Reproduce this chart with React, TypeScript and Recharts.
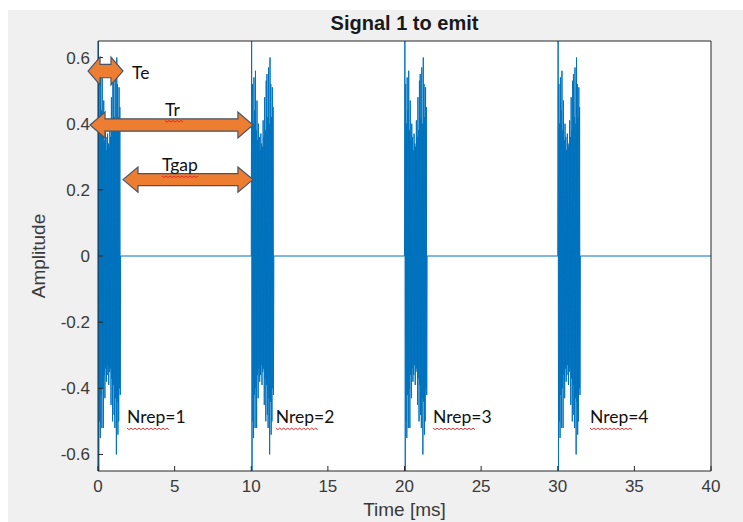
import React from 'react';
import { LineChart, Line, XAxis, YAxis, CartesianGrid, ReferenceArea, ReferenceDot } from 'recharts';

// ---- data ----
const burstStarts = [0, 10, 20, 30]; // ms
const sampleStep = 0.025; // ms between samples within a burst
const burstSamples = [
  0, 0.70, -0.70,
  0.52, -0.50, 0.40, -0.55, 0.54, -0.42, 0.44, -0.52, 0.56, -0.40,
  0.38, -0.52, 0.47, -0.36, 0.35, -0.43, 0.40, -0.34, 0.36, -0.38,
  0.32, -0.36, 0.37, -0.33, 0.34, -0.39, 0.33, -0.35, 0.41, -0.34,
  0.36, -0.45, 0.48, -0.37, 0.38, -0.50, 0.53, -0.39, 0.55, -0.48,
  0.42, -0.52, 0.57, -0.43, 0.40, -0.60, 0.60, -0.44, 0.52, -0.54,
  0.42, -0.50, 0.51, -0.40, 0.45, -0.42,
  0,
];
const timeEnd = 40;
const xTicks = [0, 5, 10, 15, 20, 25, 30, 35, 40];
const yTicks = [-0.6, -0.4, -0.2, 0, 0.2, 0.4, 0.6];

// annotation content (data coordinates)
const arrowNames = ['Te', 'Tr', 'Tgap'];
const arrowX1 = [-0.65, -0.52, 1.63];
const arrowX2 = [1.63, 10.11, 10.11];
const arrowYLow = [0.517, 0.357, 0.193];
const arrowYHigh = [0.601, 0.435, 0.269];

const noteTexts = ['Te', 'Tr', 'Tgap', 'Nrep=1', 'Nrep=2', 'Nrep=3', 'Nrep=4'];
const noteX = [2.22, 4.37, 4.18, 1.89, 11.6, 21.86, 32.1];
const noteY = [0.553, 0.443, 0.275, -0.487, -0.487, -0.487, -0.487];
const noteUnderlineWidth = [0, 19, 37, 42, 42, 42, 42];

const signal: { t: number; v: number }[] = [];
burstStarts.forEach((s) => {
  burstSamples.forEach((v, i) => signal.push({ t: s + i * sampleStep, v }));
});
signal.push({ t: timeEnd, v: 0 });

// ---- styles ----
const BLUE = '#0072BD';
const AXIS = '#262626';
const SANS = '"Liberation Sans", Arial, sans-serif';
const TICK_FONT = { fontSize: 17, fill: '#3a3a3a', fontFamily: SANS };
const NOTE_FONT = 'Lato, "Open Sans", sans-serif';

const makeArrow = (headLen: number) => (p: any) => {
  const { x, y, width, height } = p;
  const cy = y + height / 2;
  const sh = height * 0.24;
  const L = x;
  const R = x + width;
  const pts = [
    [L, cy], [L + headLen, y], [L + headLen, cy - sh], [R - headLen, cy - sh], [R - headLen, y], [R, cy],
    [R - headLen, y + height], [R - headLen, cy + sh], [L + headLen, cy + sh], [L + headLen, y + height],
  ];
  return (
    <polygon
      points={pts.map((q) => q.join(',')).join(' ')}
      fill="#ED7D31"
      stroke="#46566a"
      strokeWidth={1.2}
    />
  );
};

const makeNote = (text: string, ulw: number) => (p: any) => {
  const { cx, cy } = p;
  let d = '';
  if (ulw > 0) {
    const base = cy + 11;
    for (let k = 0; k <= ulw; k += 2) {
      d += `${k === 0 ? 'M' : 'L'}${cx + k},${base + ((k / 2) % 2 === 0 ? 0 : 1.6)} `;
    }
  }
  return (
    <g>
      <text x={cx} y={cy} dy="0.36em" fontSize={17.5} fontFamily={NOTE_FONT} fill="#111">
        {text}
      </text>
      {ulw > 0 && <path d={d} stroke="#e02020" strokeWidth={0.9} fill="none" />}
    </g>
  );
};

export default function App() {
  return (
    <div style={{ position: 'absolute', left: 0, top: 0, width: 743, height: 522, background: '#ffffff', overflow: 'hidden' }}>
      <div style={{ position: 'absolute', left: 8, top: 10, right: 0, bottom: 0, background: '#f0f0f0' }} />
      <div style={{ position: 'absolute', left: 0, top: 0 }}>
        <LineChart width={743} height={522} data={signal} margin={{ top: 0, right: 0, bottom: 0, left: 0 }}>
          <CartesianGrid fill="#ffffff" horizontal={false} vertical={false} />
          <XAxis
            dataKey="t"
            type="number"
            domain={[0, 40]}
            ticks={xTicks}
            interval={0}
            allowDataOverflow
            height={51}
            tickSize={-5}
            tickMargin={14}
            stroke={AXIS}
            tick={TICK_FONT}
            label={{
              value: 'Time [ms]',
              position: 'insideTop',
              offset: 32,
              style: { fontSize: 19, fill: '#3a3a3a', fontFamily: SANS },
            }}
          />
          <XAxis
            xAxisId="top"
            orientation="top"
            type="number"
            domain={[0, 40]}
            ticks={xTicks}
            interval={0}
            allowDataOverflow
            height={41}
            tickSize={-5}
            tick={false}
            stroke={AXIS}
            label={{
              value: 'Signal 1 to emit',
              position: 'insideTop',
              offset: 16,
              style: { fontSize: 20, fontWeight: 'bold', fill: '#1a1a1a', fontFamily: SANS },
            }}
          />
          <YAxis
            type="number"
            domain={[-0.65, 0.65]}
            ticks={yTicks}
            interval={0}
            allowDataOverflow
            width={98}
            tickSize={-5}
            tickMargin={13}
            stroke={AXIS}
            tick={TICK_FONT}
            label={{
              value: 'Amplitude',
              angle: -90,
              position: 'insideLeft',
              offset: 38,
              style: { textAnchor: 'middle', fontSize: 19, fill: '#3a3a3a', fontFamily: SANS },
            }}
          />
          <YAxis
            yAxisId="right"
            orientation="right"
            type="number"
            domain={[-0.65, 0.65]}
            ticks={yTicks}
            interval={0}
            allowDataOverflow
            width={32}
            tickSize={-5}
            tick={false}
            stroke={AXIS}
          />
          <Line
            type="linear"
            dataKey="v"
            stroke={BLUE}
            strokeWidth={1}
            dot={false}
            activeDot={false}
            isAnimationActive={false}
          />
          {arrowNames.map((n, i) => (
            <ReferenceArea
              key={n}
              x1={arrowX1[i]}
              x2={arrowX2[i]}
              y1={arrowYLow[i]}
              y2={arrowYHigh[i]}
              ifOverflow="visible"
              shape={makeArrow(i === 0 ? 12 : 15)}
              zIndex={1500}
            />
          ))}
          {noteTexts.map((t, i) => (
            <ReferenceDot
              key={t}
              x={noteX[i]}
              y={noteY[i]}
              r={0}
              ifOverflow="visible"
              shape={makeNote(t, noteUnderlineWidth[i])}
              zIndex={1600}
            />
          ))}
        </LineChart>
      </div>
    </div>
  );
}
